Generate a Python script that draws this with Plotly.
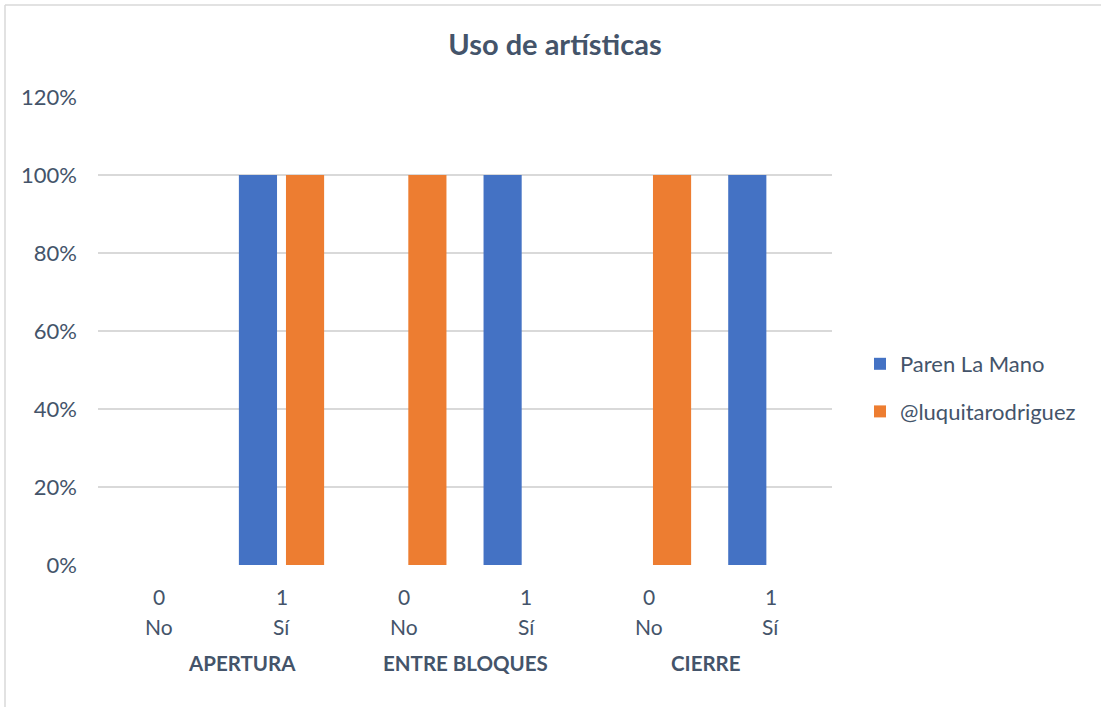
import plotly.graph_objects as go

groups = ["APERTURA", "ENTRE BLOQUES", "CIERRE"]
group_label_shift = [22, 0, -4]
codes = ["0", "1", "0", "1", "0", "1"]
answers = ["No", "Sí", "No", "Sí", "No", "Sí"]
paren_la_mano = [0, 1, 0, 1, 0, 1]
luquita = [0, 1, 1, 0, 1, 0]
series_names = ["Paren La Mano", "@luquitarodriguez"]
y_ticks = [0, 0.2, 0.4, 0.6, 0.8, 1.0, 1.2]

W, H = 1101, 707
L, R, T, B = 98, 832, 97, 565
TXT = "#44546A"
FONT = "Lato"

xs = list(range(len(codes)))

fig = go.Figure()
fig.add_trace(go.Bar(x=xs, y=paren_la_mano, name=series_names[0],
                     marker=dict(color="#4472C4", line=dict(width=0)),
                     legendgroup="a"))
fig.add_trace(go.Bar(x=xs, y=luquita, name=series_names[1],
                     marker=dict(color="#ED7D31", line=dict(width=0)),
                     legendgroup="b"))


def px_to_paper_x(px):
    return (px - L) / (R - L)


def px_to_paper_y(py):
    return (B - py) / (B - T)


annotations = []
for i, (c, a) in enumerate(zip(codes, answers)):
    annotations.append(dict(x=i, y=px_to_paper_y(596), xref="x", yref="paper",
                            text=c, showarrow=False, yanchor="middle",
                            font=dict(family=FONT, size=21, color=TXT)))
    annotations.append(dict(x=i, y=px_to_paper_y(626), xref="x", yref="paper",
                            text=a, showarrow=False, yanchor="middle",
                            font=dict(family=FONT, size=21, color=TXT)))
for g, name in enumerate(groups):
    annotations.append(dict(x=2 * g + 0.5, y=px_to_paper_y(663), xref="x", yref="paper",
                            text="<b>" + name + "</b>", showarrow=False, yanchor="middle",
                            xshift=group_label_shift[g],
                            font=dict(family=FONT, size=20.5, color=TXT)))

shapes = [
    dict(type="line", xref="paper", yref="paper",
         x0=px_to_paper_x(5), x1=px_to_paper_x(1101), y0=px_to_paper_y(5), y1=px_to_paper_y(5),
         line=dict(color="#D9D9D9", width=1.5)),
    dict(type="line", xref="paper", yref="paper",
         x0=px_to_paper_x(5), x1=px_to_paper_x(5), y0=px_to_paper_y(5), y1=px_to_paper_y(707),
         line=dict(color="#D9D9D9", width=1.5)),
]

fig.update_layout(
    width=W, height=H,
    margin=dict(l=L, r=W - R, t=T, b=H - B),
    paper_bgcolor="white", plot_bgcolor="white",
    barmode="group", bargap=0.23, bargroupgap=0.19,
    title=dict(text="<b>Uso de artísticas</b>", x=555 / W, xref="container", xanchor="center",
               y=1 - 45 / H, yref="container", yanchor="middle",
               font=dict(family=FONT, size=29, color=TXT)),
    xaxis=dict(range=[-0.5, 5.5], showticklabels=False, showgrid=False, zeroline=False,
               showline=False, ticks=""),
    yaxis=dict(range=[0, 1.2], tickvals=y_ticks, tickformat=".0%", showgrid=True,
               gridcolor="#D9D9D9", gridwidth=1.5, zeroline=False, showline=False,
               ticks="", ticklabelstandoff=20,
               tickfont=dict(family=FONT, size=22, color=TXT)),
    legend=dict(x=px_to_paper_x(860), xanchor="left", y=px_to_paper_y(388), yanchor="middle",
                font=dict(family=FONT, size=22, color=TXT), tracegroupgap=16,
                traceorder="grouped", itemwidth=30, bgcolor="rgba(0,0,0,0)"),
    annotations=annotations,
    shapes=shapes,
    showlegend=True,
)

fig.write_html("out.html", config={"displayModeBar": False},
               post_script="document.body.style.margin='0px';")
